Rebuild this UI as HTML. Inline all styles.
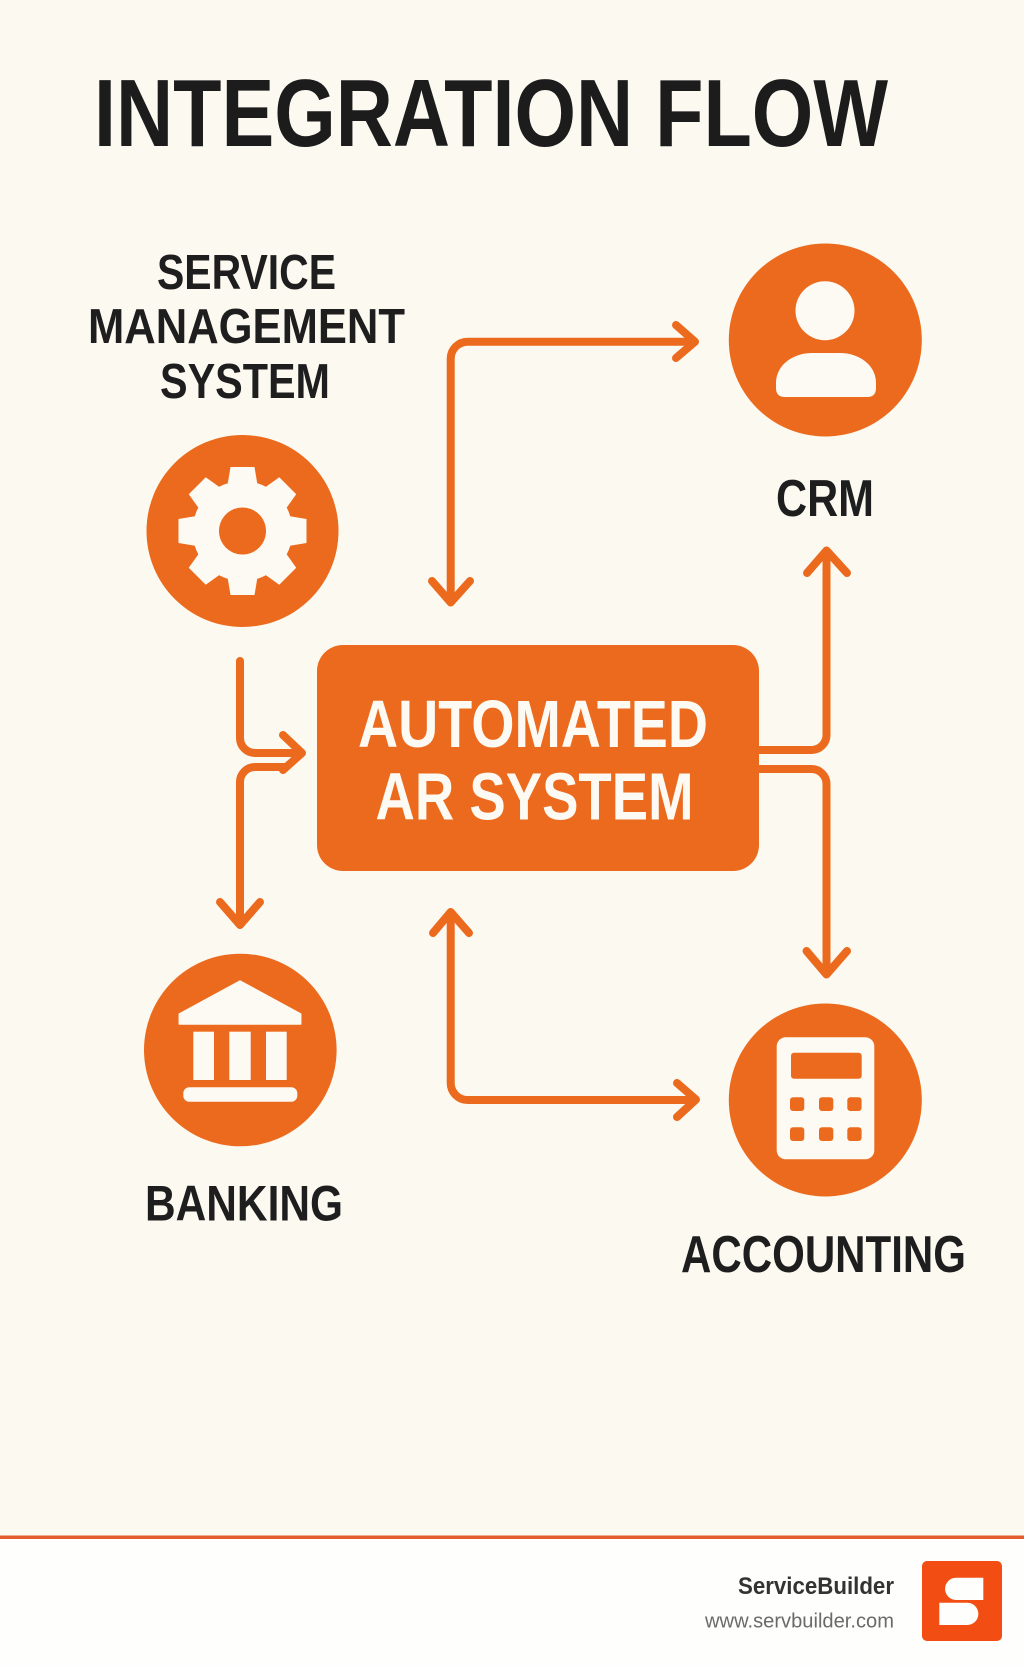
<!DOCTYPE html>
<html>
<head>
<meta charset="utf-8">
<style>
  html,body{margin:0;padding:0;background:#fcf9f1;}
  svg{display:block;}
  .h{font-family:"Liberation Sans",Arial,sans-serif;font-weight:bold;}
</style>
</head>
<body>
<svg width="1024" height="1666" viewBox="0 0 1024 1666" xmlns="http://www.w3.org/2000/svg">
  <!-- backgrounds -->
  <rect x="0" y="0" width="1024" height="1538" fill="#fcf9f1"/>
  <rect x="0" y="1538" width="1024" height="128" fill="#fefefc"/>
  <rect x="0" y="1535.5" width="1024" height="3.5" fill="#e35c2c"/>

  <!-- Title -->
  <text class="h" x="94" y="146" font-size="96" fill="#1c1c1c" textLength="794" lengthAdjust="spacingAndGlyphs">INTEGRATION FLOW</text>

  <!-- Service management label -->
  <text class="h" x="157" y="289" font-size="49" fill="#1e1e1e" textLength="179" lengthAdjust="spacingAndGlyphs">SERVICE</text>
  <text class="h" x="88" y="343" font-size="49" fill="#1e1e1e" textLength="317" lengthAdjust="spacingAndGlyphs">MANAGEMENT</text>
  <text class="h" x="160" y="398" font-size="49" fill="#1e1e1e" textLength="170" lengthAdjust="spacingAndGlyphs">SYSTEM</text>

  <!-- connectors -->
  <g fill="none" stroke="#ec6a1d" stroke-width="8" stroke-linecap="round" stroke-linejoin="round">
    <!-- top connector -->
    <path d="M450.7 601 V358.7 A17 17 0 0 1 467.7 341.7 H694"/>
    <path d="M676 325 L695 341.7 L676 358"/>
    <path d="M432 581 L450.7 602.5 L470 581"/>
    <!-- gear -> box -->
    <path d="M240 661 V738 A15 15 0 0 0 255 753 H301"/>
    <path d="M283 735 L302 753 L283 770"/>
    <!-- box -> banking -->
    <path d="M284 767 H255 A15 15 0 0 0 240 782 V924"/>
    <path d="M220 902 L240 925 L260 902"/>
    <!-- box -> CRM -->
    <path d="M758 750 H811.5 A15 15 0 0 0 826.5 735 V552"/>
    <path d="M807 573 L826.5 550.5 L847 573"/>
    <!-- box -> accounting -->
    <path d="M758 769 H811.5 A15 15 0 0 1 826.5 784 V973"/>
    <path d="M806.5 951 L826.5 974.5 L847 951"/>
    <!-- bottom connector -->
    <path d="M450.7 913 V1083 A17 17 0 0 0 467.7 1100 H694"/>
    <path d="M433 933 L450.7 912 L469 933"/>
    <path d="M677 1083 L696 1099.5 L677 1117"/>
  </g>

  <!-- Central box -->
  <rect x="317" y="645" width="442" height="226" rx="26" ry="26" fill="#ec6a1d"/>
  <text class="h" x="358" y="747" font-size="67" fill="#fdfaf4" textLength="350" lengthAdjust="spacingAndGlyphs">AUTOMATED</text>
  <text class="h" x="375.5" y="819.5" font-size="67" fill="#fdfaf4" textLength="318" lengthAdjust="spacingAndGlyphs">AR SYSTEM</text>

  <!-- Gear circle -->
  <circle cx="242.5" cy="531" r="96" fill="#ec6a1d"/>
  <g transform="translate(242.5 531)" fill="#fdfaf4">
    <circle r="50"/>
    <g id="tooth"><path d="M-15 -46 L-12 -64 L12 -64 L15 -46 Z"/></g>
    <path d="M-15 -46 L-12 -64 L12 -64 L15 -46 Z" transform="rotate(45)"/>
    <path d="M-15 -46 L-12 -64 L12 -64 L15 -46 Z" transform="rotate(90)"/>
    <path d="M-15 -46 L-12 -64 L12 -64 L15 -46 Z" transform="rotate(135)"/>
    <path d="M-15 -46 L-12 -64 L12 -64 L15 -46 Z" transform="rotate(180)"/>
    <path d="M-15 -46 L-12 -64 L12 -64 L15 -46 Z" transform="rotate(225)"/>
    <path d="M-15 -46 L-12 -64 L12 -64 L15 -46 Z" transform="rotate(270)"/>
    <path d="M-15 -46 L-12 -64 L12 -64 L15 -46 Z" transform="rotate(315)"/>
    <circle r="23.5" fill="#ec6a1d"/>
  </g>

  <!-- CRM circle -->
  <circle cx="825.3" cy="340" r="96.5" fill="#ec6a1d"/>
  <circle cx="825" cy="310.7" r="29.5" fill="#fdfaf4"/>
  <path d="M776 388 V383 C776 365 793 353 812 353 H840 C859 353 876 365 876 383 V388 Q876 397 867 397 H785 Q776 397 776 388 Z" fill="#fdfaf4"/>
  <text class="h" x="776" y="516" font-size="52" fill="#1e1e1e" textLength="98" lengthAdjust="spacingAndGlyphs">CRM</text>

  <!-- Banking circle -->
  <circle cx="240.3" cy="1050" r="96.3" fill="#ec6a1d"/>
  <path d="M240 981 L300.7 1014 L300.7 1024 L179.3 1024 L179.3 1014 Z" fill="#fdfaf4" stroke="#fdfaf4" stroke-width="1.5" stroke-linejoin="round"/>
  <rect x="193.3" y="1031.7" width="20.7" height="48.3" fill="#fdfaf4"/>
  <rect x="229.3" y="1031.7" width="21.4" height="48.3" fill="#fdfaf4"/>
  <rect x="266" y="1031.7" width="20.7" height="48.3" fill="#fdfaf4"/>
  <rect x="183.3" y="1087.3" width="114" height="14.4" rx="6" fill="#fdfaf4"/>
  <text class="h" x="145" y="1220.5" font-size="50" fill="#1e1e1e" textLength="198" lengthAdjust="spacingAndGlyphs">BANKING</text>

  <!-- Accounting circle -->
  <circle cx="825.3" cy="1100" r="96.5" fill="#ec6a1d"/>
  <rect x="776.7" y="1037.3" width="97.6" height="122" rx="9" fill="#fdfaf4"/>
  <rect x="791" y="1052.7" width="70.7" height="26" rx="3" fill="#ec6a1d"/>
  <g fill="#ec6a1d">
    <rect x="790" y="1097.3" width="14.3" height="13.7" rx="3"/>
    <rect x="819" y="1097.3" width="14.3" height="13.7" rx="3"/>
    <rect x="847.3" y="1097.3" width="14.3" height="13.7" rx="3"/>
    <rect x="790" y="1127.3" width="14.3" height="13.7" rx="3"/>
    <rect x="819" y="1127.3" width="14.3" height="13.7" rx="3"/>
    <rect x="847.3" y="1127.3" width="14.3" height="13.7" rx="3"/>
  </g>
  <text class="h" x="681" y="1272" font-size="52" fill="#1e1e1e" textLength="285" lengthAdjust="spacingAndGlyphs">ACCOUNTING</text>

  <!-- Footer -->
  <text class="h" x="738" y="1594" font-size="24" fill="#333333" textLength="156" lengthAdjust="spacingAndGlyphs">ServiceBuilder</text>
  <text x="705" y="1627.5" font-family="Liberation Sans, Arial, sans-serif" font-size="20.5" fill="#6a6a6a" textLength="189" lengthAdjust="spacingAndGlyphs">www.servbuilder.com</text>
  <rect x="922" y="1561" width="80" height="80" rx="5" fill="#f24e14"/>
  <path d="M983.3 1577.7 H956.2 A11.15 11.15 0 0 0 956.2 1600 H983.3 Z" fill="#fefefc"/>
  <path d="M939.3 1602.7 H967.2 A11.15 11.15 0 0 1 967.2 1625 H939.3 Z" fill="#fefefc"/>
</svg>
</body>
</html>
